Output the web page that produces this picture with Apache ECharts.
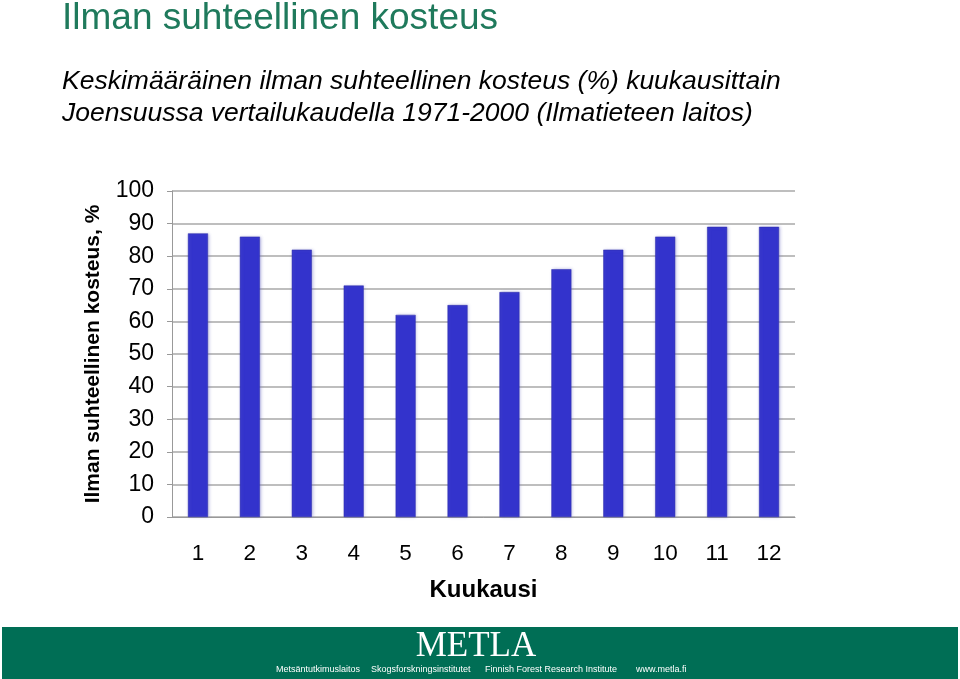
<!DOCTYPE html>
<html><head><meta charset="utf-8">
<script src="https://cdn.jsdelivr.net/npm/echarts@6/dist/echarts.min.js"></script>
<style>html,body{margin:0;padding:0;background:#fff}#c{width:960px;height:679px}</style>
</head><body><div id="c"></div>
<script>
const months = ['1','2','3','4','5','6','7','8','9','10','11','12'];
const humidity = [87, 86, 82, 71, 62, 65, 69, 76, 82, 86, 89, 89];
const yTicks = {min: 0, max: 100, interval: 10};

const chart = echarts.init(document.getElementById('c'));
const F = 'Liberation Sans, Arial';
chart.setOption({
  animation: false,
  backgroundColor: '#fff',
  grid: {left: 172, right: 165, top: 191, bottom: 162},
  xAxis: {
    type: 'category', data: months,
    axisLine: {lineStyle: {color: '#999', width: 1}},
    axisTick: {show: false},
    axisLabel: {color: '#000', fontSize: 22.5, fontFamily: F, margin: 25},
    name: 'Kuukausi', nameLocation: 'middle', nameGap: 61,
    nameTextStyle: {color: '#000', fontSize: 24, fontWeight: 'bold', fontFamily: F}
  },
  yAxis: {
    type: 'value', min: yTicks.min, max: yTicks.max, interval: yTicks.interval,
    axisLine: {show: true, lineStyle: {color: '#999'}},
    axisTick: {show: true, length: 5, lineStyle: {color: '#999'}},
    splitLine: {lineStyle: {color: '#a8a8a8', width: 1.5}},
    axisLabel: {color: '#000', fontSize: 23, fontFamily: F, margin: 18},
    name: 'Ilman suhteellinen kosteus, %', nameLocation: 'middle', nameGap: 68, nameRotate: 90,
    nameTextStyle: {color: '#000', fontSize: 21, fontWeight: 'bold', fontFamily: F}
  },
  series: [{
    type: 'bar', data: humidity, barWidth: 20,
    itemStyle: {color: '#3333cc', borderColor: '#2a2aa8', borderWidth: 0.5,
      shadowColor: 'rgba(120,120,200,0.45)', shadowBlur: 3, shadowOffsetX: 1, shadowOffsetY: 0}
  }],
  graphic: [
    {type: 'text', left: 62, top: 0, style: {text: 'Ilman suhteellinen kosteus', fill: '#1f7a5c', fontSize: 37, fontFamily: F}},
    {type: 'text', left: 62, top: 66, style: {text: 'Keskimääräinen ilman suhteellinen kosteus (%) kuukausittain\nJoensuussa vertailukaudella 1971-2000 (Ilmatieteen laitos)', fill: '#000', fontSize: 26.5, fontStyle: 'italic', lineHeight: 32, fontFamily: F}},
    {type: 'rect', shape: {x: 2, y: 627, width: 956, height: 52}, style: {fill: '#006e55'}},
    {type: 'text', x: 476, y: 647, style: {text: 'METLA', fill: '#fff', fontSize: 35, fontFamily: 'Liberation Serif, Times New Roman', align: 'center', verticalAlign: 'middle'}},
    {type: 'text', x: 276, y: 670, style: {text: 'Metsäntutkimuslaitos', fill: '#fff', fontSize: 9, fontFamily: F, verticalAlign: 'middle'}},
    {type: 'text', x: 371, y: 670, style: {text: 'Skogsforskningsinstitutet', fill: '#fff', fontSize: 9, fontFamily: F, verticalAlign: 'middle'}},
    {type: 'text', x: 485, y: 670, style: {text: 'Finnish Forest Research Institute', fill: '#fff', fontSize: 9, fontFamily: F, verticalAlign: 'middle'}},
    {type: 'text', x: 636, y: 670, style: {text: 'www.metla.fi', fill: '#fff', fontSize: 9, fontFamily: F, verticalAlign: 'middle'}}
  ]
});
</script></body></html>
